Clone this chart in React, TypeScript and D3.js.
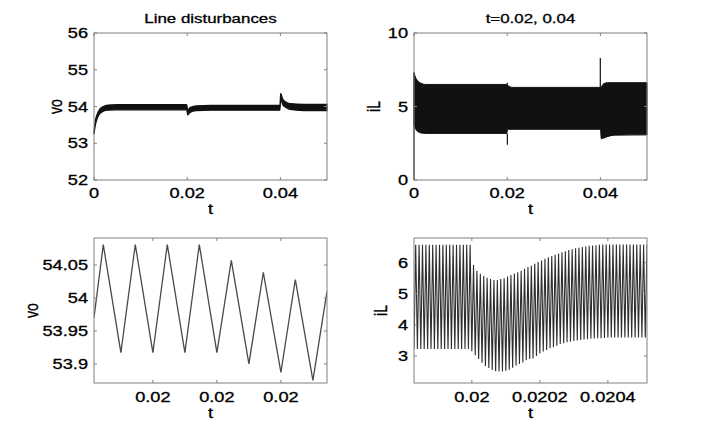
import React from "react"
import * as d3 from "d3"

// ---- top left: vo, full run (band = ripple envelope)
const voT = [0, 0.0003, 0.0007, 0.0012, 0.002, 0.003, 0.005, 0.0199, 0.0201, 0.0205, 0.0212, 0.022, 0.025, 0.0399, 0.04005, 0.0405, 0.0412, 0.042, 0.045, 0.05]
const voHi = [53.3, 53.62, 53.8, 53.92, 54.0, 54.04, 54.05, 54.05, 53.9, 53.96, 54.0, 54.02, 54.03, 54.03, 54.36, 54.2, 54.12, 54.08, 54.06, 54.06]
const voLo = [53.25, 53.5, 53.68, 53.8, 53.87, 53.9, 53.91, 53.91, 53.77, 53.82, 53.87, 53.89, 53.9, 53.9, 54.2, 54.05, 53.97, 53.92, 53.89, 53.89]

// ---- top right: iL, full run
const iLT = [0, 0.0003, 0.0008, 0.0015, 0.0025, 0.0199, 0.02, 0.0203, 0.0212, 0.04, 0.0402, 0.0407, 0.0415, 0.043, 0.05]
const iLHi = [7.3, 7.0, 6.75, 6.58, 6.5, 6.5, 6.5, 6.38, 6.3, 6.3, 6.35, 6.55, 6.62, 6.62, 6.62]
const iLLo = [3.8, 3.5, 3.3, 3.2, 3.17, 3.17, 3.3, 3.45, 3.45, 3.45, 2.8, 2.85, 2.95, 3.05, 3.07]
const spikeT = [0, 0.02003, 0.02003, 0.03998]
const spikeFrom = [0, 3.17, 6.5, 6.3]
const spikeTo = [7.3, 2.4, 6.62, 8.3]

// ---- bottom left: vo zoomed (vertices of the ripple)
const vo2T = [0.0204016, 0.0204045, 0.02041, 0.0204145, 0.02042, 0.0204245, 0.02043, 0.0204345, 0.02044, 0.0204445, 0.02045, 0.0204545, 0.02046, 0.0204645, 0.02047, 0.0204744]
const vo2V = [53.97, 54.081, 53.917, 54.081, 53.917, 54.081, 53.917, 54.081, 53.917, 54.057, 53.9, 54.039, 53.887, 54.028, 53.875, 54.01]
const vo2Ticks = [0.02042, 0.02044, 0.02046]
const vo2TickLabels = ["0.02", "0.02", "0.02"]

// ---- bottom right: iL zoomed, one peak and one trough per switching period
const iL2Start = 0.01983
const iL2Period = 1e-5
const iL2Peaks = [
  6.57, 6.57, 6.57, 6.57, 6.57, 6.57, 6.57, 6.57, 6.57, 6.57, 6.57, 6.57, 6.57, 6.57, 6.57, 6.57, 6.57,
  5.92, 5.74, 5.64, 5.57, 5.51, 5.47, 5.44, 5.44, 5.47, 5.5, 5.55, 5.6, 5.65, 5.69, 5.74, 5.8, 5.86, 5.9,
  5.96, 6.02, 6.07, 6.12, 6.17, 6.21, 6.25, 6.29, 6.33, 6.36, 6.4, 6.43, 6.46, 6.48, 6.5, 6.52, 6.54, 6.55,
  6.56, 6.57, 6.58, 6.58, 6.58, 6.58, 6.58, 6.58, 6.58, 6.58, 6.58, 6.58, 6.58, 6.58, 6.58, 6.58,
]
const iL2Troughs = [
  3.22, 3.22, 3.22, 3.22, 3.22, 3.22, 3.22, 3.22, 3.22, 3.22, 3.22, 3.22, 3.22, 3.22, 3.22, 3.22, 3.22,
  3.15, 3.02, 2.9, 2.78, 2.68, 2.61, 2.55, 2.51, 2.5, 2.5, 2.52, 2.56, 2.62, 2.69, 2.74, 2.79, 2.86, 2.9,
  2.92, 3.0, 3.08, 3.14, 3.19, 3.25, 3.29, 3.33, 3.38, 3.41, 3.44, 3.46, 3.48, 3.5, 3.51, 3.53, 3.54, 3.55,
  3.56, 3.57, 3.57, 3.58, 3.59, 3.59, 3.59, 3.59, 3.59, 3.59, 3.59, 3.59, 3.59, 3.59, 3.59, 3.59,
]
const iL2Ticks = [0.02, 0.0202, 0.0204]
const iL2TickLabels = ["0.02", "0.0202", "0.0204"]

const SX = 1.3
const FONT = "'Liberation Sans', Arial, sans-serif"
const BOX = "#808080"

function Txt({ x, y, anchor = "middle", size = 14, rot = false, children }: any) {
  return (
    <text transform={`translate(${x},${y}) scale(${SX},1)${rot ? " rotate(-90)" : ""}`}
      textAnchor={anchor} fontSize={size} fontFamily={FONT} fill="#000"
      stroke="#000" strokeWidth={0.3}>{children}</text>
  )
}

function Frame({ x, y, xt, yt, xl, yl, title, xlab, ylab, ylabX, xlabY, tlabY }: any) {
  const [x0, x1] = x.range()
  const [y1, y0] = y.range()
  const L = 3
  return (
    <g>
      <rect x={x0} y={y0} width={x1 - x0} height={y1 - y0} fill="none" stroke={BOX} strokeWidth={1} />
      {xt.map((v: number, i: number) => (
        <g key={"x" + i}>
          <line x1={x(v)} x2={x(v)} y1={y1} y2={y1 - L} stroke={BOX} />
          <line x1={x(v)} x2={x(v)} y1={y0} y2={y0 + L} stroke={BOX} />
          <Txt x={x(v)} y={xlabY}>{xl[i]}</Txt>
        </g>
      ))}
      {yt.map((v: number, i: number) => (
        <g key={"y" + i}>
          <line x1={x0} x2={x0 + L} y1={y(v)} y2={y(v)} stroke={BOX} />
          <line x1={x1} x2={x1 - L} y1={y(v)} y2={y(v)} stroke={BOX} />
          <Txt x={x0 - 6} y={y(v) + 5} anchor="end">{yl[i]}</Txt>
        </g>
      ))}
      {title && <Txt x={(x0 + x1) / 2} y={23} size={13}>{title}</Txt>}
      <Txt x={(x0 + x1) / 2} y={tlabY}>{xlab}</Txt>
      <Txt x={ylabX} y={(y0 + y1) / 2} rot>{ylab}</Txt>
    </g>
  )
}

export default function App() {
  // panel scales
  const x1 = d3.scaleLinear().domain([0, 0.05]).range([94, 327])
  const y1 = d3.scaleLinear().domain([52, 56]).range([180, 33])
  const x2 = d3.scaleLinear().domain([0, 0.05]).range([414, 647])
  const y2 = d3.scaleLinear().domain([0, 10]).range([180, 33])
  const x3 = d3.scaleLinear().domain([vo2T[0], vo2T[vo2T.length - 1]]).range([94, 327])
  const y3 = d3.scaleLinear().domain([53.871, 54.091]).range([383, 238])
  const x4 = d3.scaleLinear().domain([0.01983, 0.020515]).range([414, 647])
  const y4 = d3.scaleLinear().domain([2.13, 6.79]).range([383, 238])

  const voIdx = voT.map((_, i) => i)
  const voArea = d3.area<number>().x(i => x1(voT[i])).y0(i => y1(voLo[i])).y1(i => y1(voHi[i])).curve(d3.curveMonotoneX)(voIdx)
  const iLIdx = iLT.map((_, i) => i)
  const iLArea = d3.area<number>().x(i => x2(iLT[i])).y0(i => y2(iLLo[i])).y1(i => y2(iLHi[i])).curve(d3.curveMonotoneX)(iLIdx)

  const vo2Line = d3.line<number>().x(i => x3(vo2T[i])).y(i => y3(vo2V[i]))(vo2T.map((_, i) => i))

  const iL2Pts: [number, number][] = []
  iL2Peaks.forEach((p, i) => {
    iL2Pts.push([iL2Start + i * iL2Period, iL2Troughs[i]])
    iL2Pts.push([iL2Start + (i + 0.5) * iL2Period, p])
  })
  const iL2Line = d3.line<[number, number]>().x(d => x4(d[0])).y(d => y4(d[1]))(iL2Pts)

  return (
    <svg width={717} height={433} style={{ position: "absolute", left: 0, top: 0, background: "#fff" }}>
      <defs>
        <clipPath id="c3"><rect x={94} y={238} width={233} height={145} /></clipPath>
        <clipPath id="c4"><rect x={414} y={238} width={233} height={145} /></clipPath>
      </defs>

      {/* top left */}
      <path d={voArea || ""} fill="#111" stroke="#111" strokeWidth={1.2} />
      <Frame x={x1} y={y1} xt={[0, 0.02, 0.04]} xl={["0", "0.02", "0.04"]}
        yt={[52, 53, 54, 55, 56]} yl={["52", "53", "54", "55", "56"]}
        title="Line disturbances" xlab="t" ylab="vo" ylabX={62} xlabY={198} tlabY={214} />

      {/* top right */}
      <path d={iLArea || ""} fill="#111" stroke="#111" strokeWidth={1} />
      {spikeT.map((t, i) => (
        <line key={i} x1={x2(t)} x2={x2(t)} y1={y2(spikeFrom[i])} y2={y2(spikeTo[i])} stroke="#111" strokeWidth={1.2} />
      ))}
      <Frame x={x2} y={y2} xt={[0, 0.02, 0.04]} xl={["0", "0.02", "0.04"]}
        yt={[0, 5, 10]} yl={["0", "5", "10"]}
        title="t=0.02, 0.04" xlab="t" ylab="iL" ylabX={380} xlabY={198} tlabY={214} />

      {/* bottom left */}
      <path d={vo2Line || ""} fill="none" stroke="#4a4a4a" strokeWidth={1.3} clipPath="url(#c3)" />
      <Frame x={x3} y={y3} xt={vo2Ticks} xl={vo2TickLabels}
        yt={[53.9, 53.95, 54, 54.05]} yl={["53.9", "53.95", "54", "54.05"]}
        xlab="t" ylab="vo" ylabX={38} xlabY={402} tlabY={418} />

      {/* bottom right */}
      <path d={iL2Line || ""} fill="none" stroke="#2e2e2e" strokeWidth={1.1} clipPath="url(#c4)" />
      <Frame x={x4} y={y4} xt={iL2Ticks} xl={iL2TickLabels}
        yt={[3, 4, 5, 6]} yl={["3", "4", "5", "6"]}
        xlab="t" ylab="iL" ylabX={387} xlabY={402} tlabY={418} />
    </svg>
  )
}
